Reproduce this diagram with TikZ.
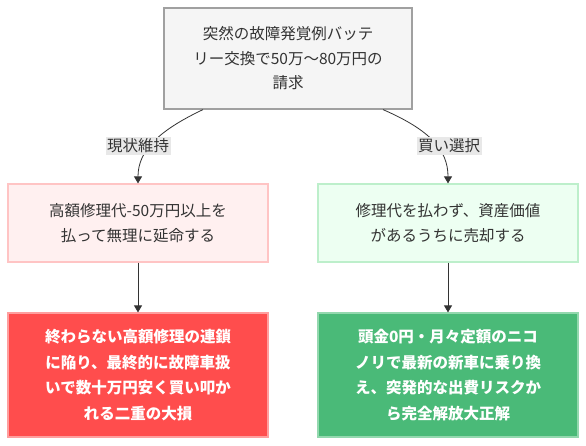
\documentclass[tikz,border=0pt]{standalone}
\usepackage{fontspec}
\setmainfont{Noto Sans CJK JP}
\usetikzlibrary{arrows.meta,calc}
\definecolor{txt}{HTML}{333333}
\definecolor{topfill}{HTML}{F5F5F5}
\definecolor{topdraw}{HTML}{A0A0A0}
\definecolor{badfill}{HTML}{FFF0F0}
\definecolor{baddraw}{HTML}{FFC4C4}
\definecolor{goodfill}{HTML}{EDFFF2}
\definecolor{gooddraw}{HTML}{BDEFCB}
\definecolor{worstfill}{HTML}{FF4D4D}
\definecolor{worstdraw}{HTML}{FF9E9E}
\definecolor{bestfill}{HTML}{4ABA78}
\definecolor{bestdraw}{HTML}{93D8AE}
\definecolor{lblfill}{HTML}{E8E8E8}
\definecolor{edge}{HTML}{333333}
\tikzset{
  box/.style={draw, line width=1.2pt, align=center, text=txt, font=\fontsize{15.5}{24.5}\selectfont, inner sep=0pt},
  topbox/.style={box, fill=topfill, draw=topdraw, minimum width=248pt, minimum height=101pt},
  midbad/.style={box, fill=badfill, draw=baddraw, minimum width=260pt, minimum height=78pt},
  midgood/.style={box, fill=goodfill, draw=gooddraw, minimum width=260pt, minimum height=78pt},
  endbad/.style={box, fill=worstfill, draw=worstdraw, text=white, font=\fontsize{15.5}{25.5}\selectfont\bfseries, minimum width=260pt, minimum height=124pt},
  endgood/.style={box, fill=bestfill, draw=bestdraw, text=white, font=\fontsize{15.5}{25.5}\selectfont\bfseries, minimum width=260pt, minimum height=124pt},
  lbl/.style={fill=lblfill, text=txt, font=\fontsize{15.5}{18}\selectfont, inner sep=1.5pt},
  conn/.style={draw=edge, line width=0.8pt, -{Triangle[length=7pt,width=8pt]}},
}
\begin{document}
\begin{tikzpicture}[x=1pt,y=-1pt]
\useasboundingbox (0,0) rectangle (586,446);
\node[topbox] (top) at (288,58.5) {突然の故障発覚例バッテ\\リー交換で50万〜80万円の\\請求};
\node[midbad] (m1) at (138,223) {高額修理代-50万円以上を\\払って無理に延命する};
\node[midgood] (m2) at (448,223) {修理代を払わず、資産価値\\があるうちに売却する};
\node[endbad] (e1) at (138,375) {終わらない高額修理の連鎖\\に陥り、最終的に故障車扱\\いで数十万円安く買い叩か\\れる二重の大損};
\node[endgood] (e2) at (448,375) {頭金0円・月々定額のニコ\\ノリで最新の新車に乗り換\\え、突発的な出費リスクか\\ら完全解放大正解};
\coordinate (s1) at ($(top.south)+(-85,0)$);
\coordinate (s2) at ($(top.south)+(95,0)$);
\draw[conn] (s1) .. controls (160,130) and (138,150) .. (m1.north);
\draw[conn] (s2) .. controls (430,130) and (448,150) .. (m2.north);
\node[lbl] (l1) at (138,146) {現状維持};
\node[lbl] (l2) at (449,146) {買い選択};
\draw[conn] (m1.south) -- (e1.north);
\draw[conn] (m2.south) -- (e2.north);
\end{tikzpicture}
\end{document}
